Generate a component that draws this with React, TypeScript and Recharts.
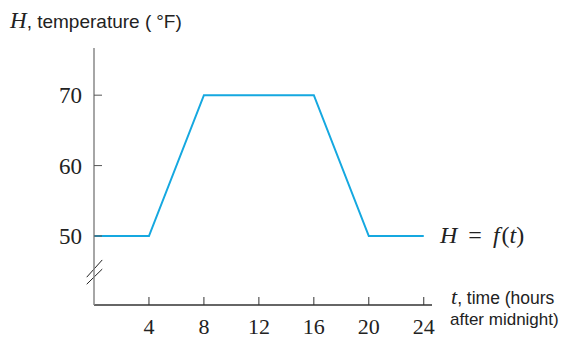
import { LineChart, Line, XAxis, YAxis, ReferenceLine, Customized } from 'recharts'

const hours = [0, 4, 8, 16, 20, 24]
const temps = [50, 50, 70, 70, 50, 50]
const xTicks = [4, 8, 12, 16, 20, 24]
const yTicks = [50, 60, 70]

const data = hours.map((t, i) => ({ t, H: temps[i] }))

const serif = '"Liberation Serif", "DejaVu Serif", serif'
const sans = '"Liberation Sans", Arial, sans-serif'

function XTick(props: any) {
  const { x, y, payload } = props
  return (
    <g>
      <line x1={x} y1={y} x2={x} y2={y - 8} stroke="#333" strokeWidth={1} />
      <text x={x} y={y + 29} textAnchor="middle" fontFamily={serif} fontSize={22} fill="#222">
        {payload.value}
      </text>
    </g>
  )
}

function YTick(props: any) {
  const { x, y, payload } = props
  return (
    <g>
      <line x1={x} y1={y} x2={x + 8} y2={y} stroke="#555" strokeWidth={1} />
      <text x={x - 12} y={y + 8} textAnchor="end" fontFamily={serif} fontSize={23} fill="#222">
        {payload.value}
      </text>
    </g>
  )
}

function Labels() {
  return (
    <g>
      <text x={10} y={28} fontSize={19} fontFamily={sans} fill="#222">
        <tspan fontFamily={serif} fontStyle="italic" fontSize={23}>H</tspan>
        <tspan>, temperature (</tspan>
        <tspan dx={5}>°F)</tspan>
      </text>
      <text x={440} y={243} fontSize={24} fontFamily={serif} fill="#222">
        <tspan fontStyle="italic">H</tspan>
        <tspan dx={11}>=</tspan>
        <tspan dx={11} fontStyle="italic">f</tspan>
        <tspan dx={2}>(</tspan>
        <tspan fontStyle="italic">t</tspan>
        <tspan>)</tspan>
      </text>
      <text x={451} y={304} fontSize={17.5} fontFamily={sans} fill="#222">
        <tspan fontFamily={serif} fontStyle="italic" fontSize={22}>t</tspan>
        <tspan>, time (hours</tspan>
      </text>
      <text x={450} y={325} fontSize={17} fontFamily={sans} fill="#222">
        after midnight)
      </text>
    </g>
  )
}

export default function App() {
  return (
    <div style={{ position: 'absolute', left: 0, top: 0, width: 563, height: 339, background: '#fff' }}>
      <LineChart width={563} height={339} data={data} margin={{ top: 48, right: 131, bottom: 4, left: 34 }}>
        <XAxis
          type="number"
          dataKey="t"
          domain={[0, 24.6]}
          ticks={xTicks}
          allowDataOverflow
          height={30}
          tickLine={false}
          tickSize={0}
          tickMargin={0}
          tick={<XTick />}
          axisLine={{ stroke: '#333', strokeWidth: 1.3 }}
        />
        <YAxis
          type="number"
          domain={[40.2, 76.7]}
          ticks={yTicks}
          allowDataOverflow
          width={60}
          tickLine={false}
          tickSize={0}
          tickMargin={0}
          tick={<YTick />}
          axisLine={{ stroke: '#888', strokeWidth: 1.5 }}
        />
        <ReferenceLine
          segment={[{ x: -0.53, y: 44.15 }, { x: 0.6, y: 46.6 }]}
          stroke="#222"
          strokeWidth={1}
          ifOverflow="visible"
        />
        <ReferenceLine
          segment={[{ x: -0.53, y: 43.15 }, { x: 0.6, y: 45.3 }]}
          stroke="#222"
          strokeWidth={1}
          ifOverflow="visible"
        />
        <Line
          type="linear"
          dataKey="H"
          stroke="#15a8e0"
          strokeWidth={2}
          dot={false}
          isAnimationActive={false}
        />
        <Customized component={<Labels />} />
      </LineChart>
    </div>
  )
}
